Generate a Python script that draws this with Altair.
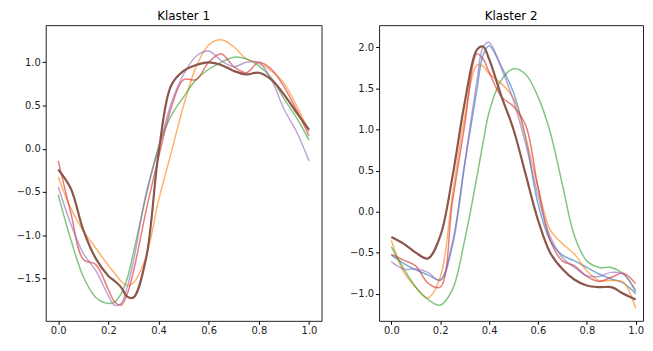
import altair as alt
import pandas as pd

# ---------------- data ----------------
t1 = [0.0, 0.05, 0.1, 0.15, 0.2, 0.225, 0.25, 0.275, 0.3, 0.35, 0.4, 0.45,
      0.5, 0.55, 0.6, 0.65, 0.7, 0.75, 0.8, 0.85, 0.9, 0.95, 1.0]
k1_orange = [-0.33, -0.69, -0.95, -1.15, -1.35, -1.44, -1.53, -1.58, -1.55, -1.25, -0.6, -0.05,
             0.5, 0.95, 1.2, 1.26, 1.18, 1.04, 0.99, 0.9, 0.76, 0.5, 0.2]
k1_green = [-0.53, -1.05, -1.48, -1.72, -1.79, -1.77, -1.68, -1.5, -1.2, -0.55, 0.02, 0.38,
            0.6, 0.8, 0.92, 1.0, 1.06, 1.04, 0.96, 0.82, 0.58, 0.36, 0.1]
k1_red = [-0.14, -0.74, -1.28, -1.34, -1.63, -1.77, -1.81, -1.68, -1.42, -0.72, -0.1, 0.47,
          0.8, 0.8, 1.0, 1.1, 0.95, 0.88, 1.0, 0.92, 0.72, 0.45, 0.15]
k1_purple = [-0.44, -0.87, -1.21, -1.41, -1.70, -1.81, -1.79, -1.6, -1.3, -0.52, 0.0, 0.52,
             0.86, 1.07, 1.13, 1.02, 0.95, 1.0, 1.0, 0.8, 0.46, 0.2, -0.14]
k1_brown = [-0.24, -0.46, -0.94, -1.27, -1.47, -1.53, -1.6, -1.71, -1.72, -1.27, -0.05, 0.73,
            0.9, 0.97, 1.0, 0.97, 0.9, 0.86, 0.88, 0.8, 0.63, 0.42, 0.22]

t2 = [0.0, 0.05, 0.1, 0.15, 0.2, 0.25, 0.3, 0.35, 0.375, 0.4, 0.45, 0.5,
      0.55, 0.6, 0.65, 0.7, 0.75, 0.8, 0.85, 0.9, 0.95, 1.0]
k2_blue = [-0.53, -0.63, -0.71, -0.77, -0.83, -0.38, 0.57, 1.48, 1.9, 2.02, 1.77, 1.45,
           0.9, 0.1, -0.35, -0.53, -0.6, -0.68, -0.76, -0.82, -0.87, -1.0]
k2_orange = [-0.35, -0.73, -0.92, -1.05, -0.8, 0.2, 1.15, 1.78, 1.77, 1.68, 1.56, 1.38,
             0.9, 0.3, -0.22, -0.39, -0.52, -0.72, -0.84, -0.84, -0.86, -1.18]
k2_green = [-0.43, -0.69, -0.92, -1.07, -1.14, -0.95, -0.35, 0.42, 0.83, 1.21, 1.6, 1.74,
            1.67, 1.4, 0.97, 0.33, -0.3, -0.6, -0.68, -0.68, -0.76, -0.96]
k2_red = [-0.52, -0.59, -0.66, -0.87, -0.92, 0.12, 1.05, 1.92, 1.86, 1.7, 1.4, 1.28,
          1.05, 0.3, -0.35, -0.6, -0.66, -0.79, -0.85, -0.8, -0.75, -0.88]
k2_purple = [-0.61, -0.70, -0.70, -0.74, -0.84, -0.42, 0.58, 1.58, 2.0, 2.06, 1.75, 1.35,
             0.82, 0.2, -0.3, -0.56, -0.68, -0.78, -0.79, -0.74, -0.76, -0.98]
k2_brown = [-0.31, -0.39, -0.5, -0.57, -0.3, 0.42, 1.32, 1.97, 2.01, 1.86, 1.41, 1.0,
            0.45, -0.1, -0.5, -0.7, -0.83, -0.9, -0.92, -0.92, -1.0, -1.07]

x_ticks = [0.0, 0.2, 0.4, 0.6, 0.8, 1.0]
y1_ticks = [-1.5, -1.0, -0.5, 0.0, 0.5, 1.0]
y2_ticks = [-1.0, -0.5, 0.0, 0.5, 1.0, 1.5, 2.0]
titles = ["Klaster 1", "Klaster 2"]

series_names = ["blue", "orange", "green", "red", "purple", "brown"]
series_colors = ["#1f77b4", "#ff7f0e", "#2ca02c", "#d62728", "#9467bd", "#8c564b"]


def long_df(t, series):
    rows = []
    for idx, (name, vals) in enumerate(series):
        for i, (tt, v) in enumerate(zip(t, vals)):
            rows.append({"t": tt, "v": v, "series": name, "ord": idx, "i": i})
    return pd.DataFrame(rows)


df1 = long_df(t1, [("orange", k1_orange), ("green", k1_green), ("red", k1_red),
                   ("purple", k1_purple), ("brown", k1_brown)])
df2 = long_df(t2, [("blue", k2_blue), ("orange", k2_orange), ("green", k2_green),
                   ("red", k2_red), ("purple", k2_purple), ("brown", k2_brown)])

FONT = "DejaVu Sans"
LABEL_EXPR = "replace(format(datum.value, '.1f'), '-', '\u2212')"
PLOT_H = 298


def panel(df, title, ydomain, yticks, width, xdomain, yext):
    xenc = alt.X("t:Q", scale=alt.Scale(domain=xdomain, nice=False, zero=False),
                 axis=alt.Axis(values=x_ticks, labelExpr=LABEL_EXPR, title=None, grid=False,
                               domain=False, tickSize=3.5, labelPadding=1,
                               tickColor="#000", labelColor="#222", labelFontSize=10,
                               labelFont=FONT))
    yenc = alt.Y("v:Q", scale=alt.Scale(domain=ydomain, nice=False, zero=False),
                 axis=alt.Axis(values=yticks, labelExpr=LABEL_EXPR, title=None, grid=False,
                               domain=False, tickSize=3.5, labelPadding=2,
                               tickColor="#000", labelColor="#222", labelFontSize=10,
                               labelFont=FONT, minExtent=yext, maxExtent=yext))
    base = alt.Chart(df)
    thin = base.transform_filter(alt.datum.series != "brown").mark_line(
        interpolate="catmull-rom", strokeWidth=1.5, opacity=0.6
    ).encode(
        x=xenc, y=yenc,
        color=alt.Color("series:N", scale=alt.Scale(domain=series_names, range=series_colors),
                        legend=None),
        detail="series:N",
        order="i:Q",
    )
    thick = base.transform_filter(alt.datum.series == "brown").mark_line(
        interpolate="catmull-rom", strokeWidth=2.2, color="#8c564b"
    ).encode(x=xenc, y=yenc, order="i:Q")
    return alt.layer(thin, thick).properties(
        width=width, height=PLOT_H,
        title=alt.Title(title, fontSize=12, font=FONT, fontWeight="normal",
                        color="#000", offset=2),
    )


left = panel(df1, titles[0], [-1.99, 1.43], y1_ticks, 278, [-0.05, 1.05], 37)
right = panel(df2, titles[1], [-1.33, 2.27], y2_ticks, 266, [-0.05, 1.03], 32)

chart = alt.hconcat(left, right, spacing=24).properties(
    padding={"left": 0, "top": 0, "right": 0, "bottom": 0},
    background="white",
).configure_view(
    stroke="#222", strokeWidth=1
)

chart.save("out.html", embed_options={"renderer": "svg", "actions": False})
